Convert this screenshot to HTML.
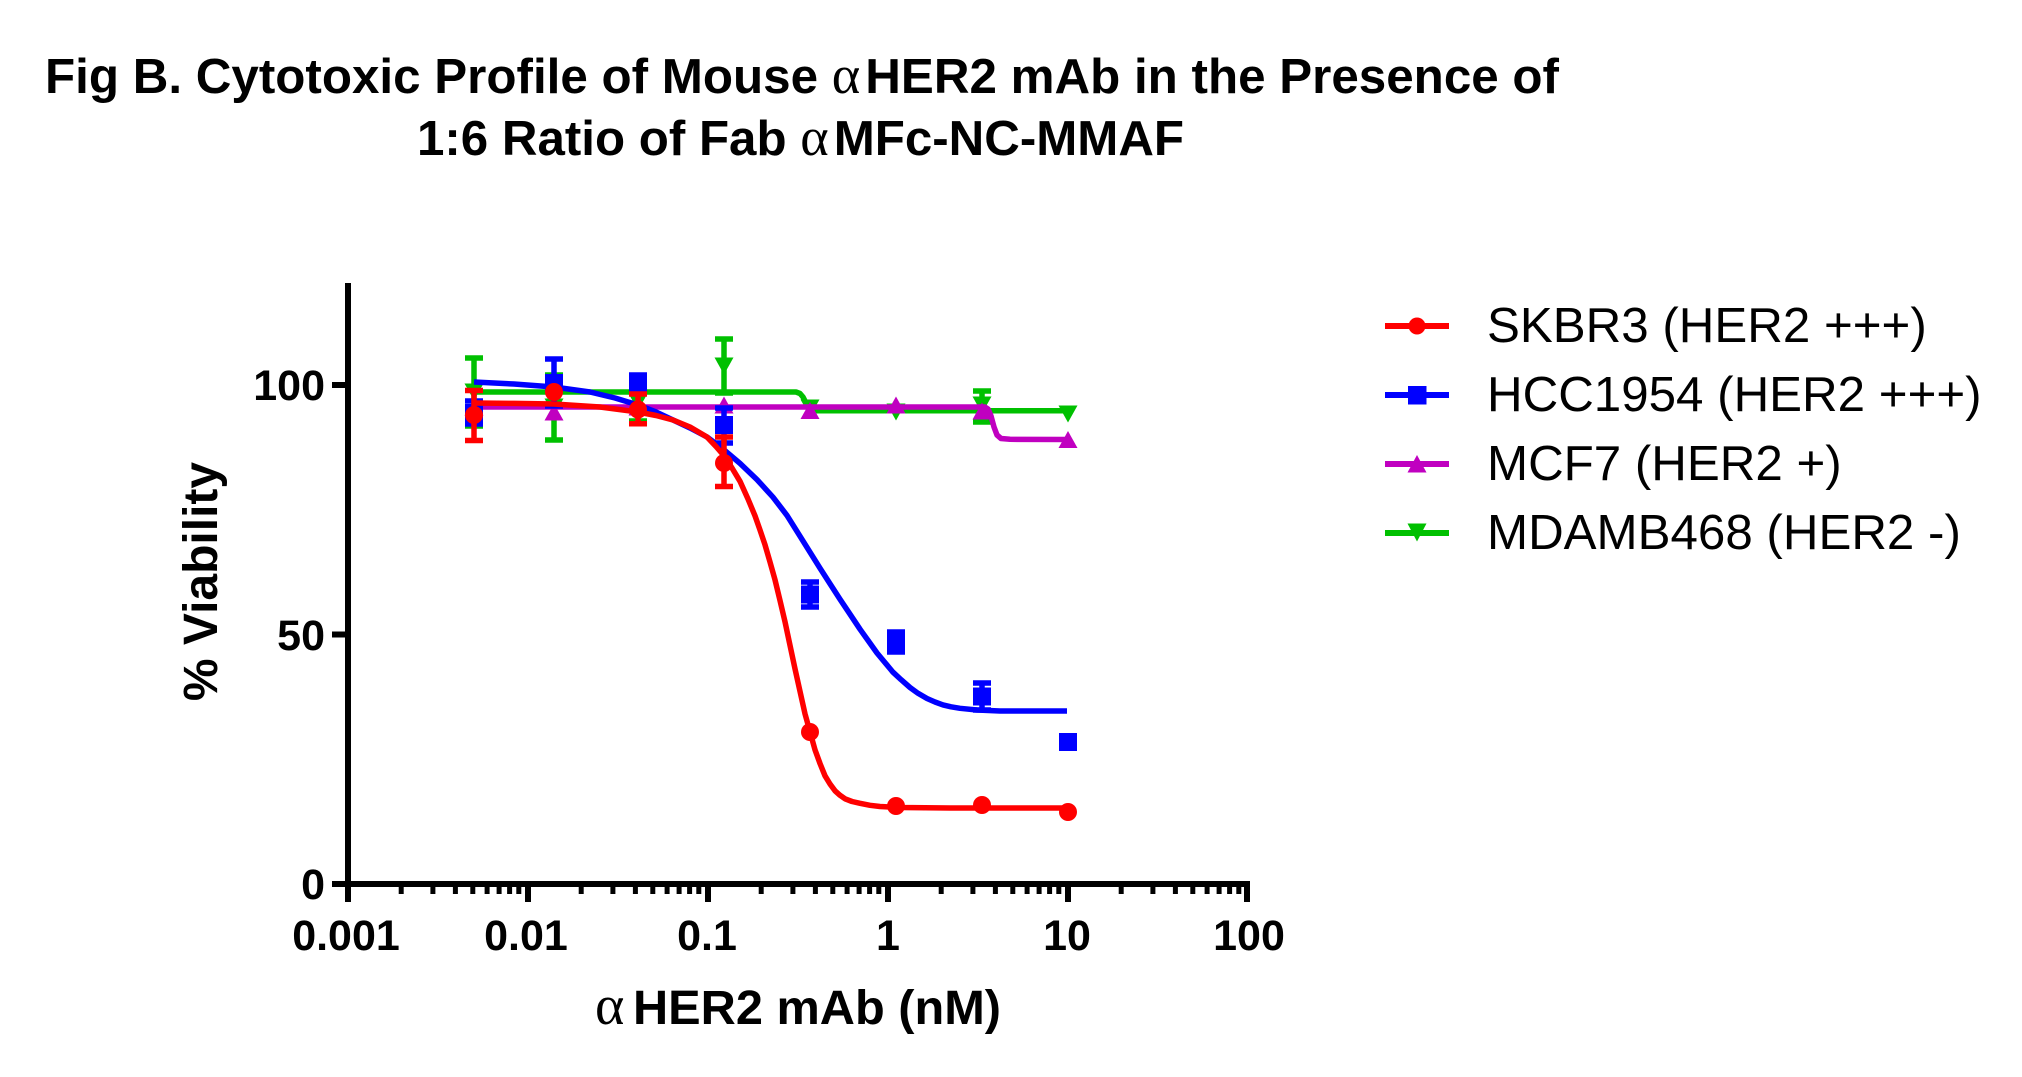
<!DOCTYPE html>
<html>
<head>
<meta charset="utf-8">
<style>
  html, body { margin: 0; padding: 0; background: #ffffff; overflow: hidden; }
  svg { display: block; }
</style>
</head>
<body>
<svg width="2022" height="1077" viewBox="0 0 2022 1077" xmlns="http://www.w3.org/2000/svg">
  <rect x="0" y="0" width="2022" height="1077" fill="#ffffff"/>

  <!-- Title -->
  <text x="45" y="93" font-family="'Liberation Sans', Arial, sans-serif" font-weight="bold" font-size="49" fill="#000" textLength="1514" lengthAdjust="spacingAndGlyphs">Fig B. Cytotoxic Profile of Mouse <tspan font-family="'Liberation Serif', serif" font-weight="normal" font-size="54">α</tspan><tspan dx="5">HER2 mAb in the Presence of</tspan></text>
  <text x="417" y="155" font-family="'Liberation Sans', Arial, sans-serif" font-weight="bold" font-size="49" fill="#000" textLength="767" lengthAdjust="spacingAndGlyphs">1:6 Ratio of Fab <tspan font-family="'Liberation Serif', serif" font-weight="normal" font-size="54">α</tspan><tspan dx="5">MFc-NC-MMAF</tspan></text>

  <!-- Axes -->
  <g stroke="#000" fill="none" stroke-linecap="butt">
    <line x1="348" y1="283" x2="348" y2="902" stroke-width="6"/>
    <line x1="345" y1="884" x2="1250" y2="884" stroke-width="6"/>
    <line x1="332" y1="385" x2="348" y2="385" stroke-width="6"/>
    <line x1="332" y1="634.5" x2="348" y2="634.5" stroke-width="6"/>
    <line x1="332" y1="884" x2="348" y2="884" stroke-width="6"/>
    <line x1="528" y1="884" x2="528" y2="902" stroke-width="6"/>
    <line x1="708" y1="884" x2="708" y2="902" stroke-width="6"/>
    <line x1="888" y1="884" x2="888" y2="902" stroke-width="6"/>
    <line x1="1068" y1="884" x2="1068" y2="902" stroke-width="6"/>
    <line x1="1247" y1="884" x2="1247" y2="902" stroke-width="6"/>
    <g stroke-width="5">
      <line x1="401.2" y1="884" x2="401.2" y2="894"/><line x1="432.9" y1="884" x2="432.9" y2="894"/><line x1="455.4" y1="884" x2="455.4" y2="894"/><line x1="472.8" y1="884" x2="472.8" y2="894"/><line x1="487.1" y1="884" x2="487.1" y2="894"/><line x1="499.1" y1="884" x2="499.1" y2="894"/><line x1="509.6" y1="884" x2="509.6" y2="894"/><line x1="518.8" y1="884" x2="518.8" y2="894"/>
      <line x1="581.2" y1="884" x2="581.2" y2="894"/><line x1="612.9" y1="884" x2="612.9" y2="894"/><line x1="635.4" y1="884" x2="635.4" y2="894"/><line x1="652.8" y1="884" x2="652.8" y2="894"/><line x1="667.1" y1="884" x2="667.1" y2="894"/><line x1="679.1" y1="884" x2="679.1" y2="894"/><line x1="689.6" y1="884" x2="689.6" y2="894"/><line x1="698.8" y1="884" x2="698.8" y2="894"/>
      <line x1="761.2" y1="884" x2="761.2" y2="894"/><line x1="792.9" y1="884" x2="792.9" y2="894"/><line x1="815.4" y1="884" x2="815.4" y2="894"/><line x1="832.8" y1="884" x2="832.8" y2="894"/><line x1="847.1" y1="884" x2="847.1" y2="894"/><line x1="859.1" y1="884" x2="859.1" y2="894"/><line x1="869.6" y1="884" x2="869.6" y2="894"/><line x1="878.8" y1="884" x2="878.8" y2="894"/>
      <line x1="941.2" y1="884" x2="941.2" y2="894"/><line x1="972.9" y1="884" x2="972.9" y2="894"/><line x1="995.4" y1="884" x2="995.4" y2="894"/><line x1="1012.8" y1="884" x2="1012.8" y2="894"/><line x1="1027.1" y1="884" x2="1027.1" y2="894"/><line x1="1039.1" y1="884" x2="1039.1" y2="894"/><line x1="1049.6" y1="884" x2="1049.6" y2="894"/><line x1="1058.8" y1="884" x2="1058.8" y2="894"/>
      <line x1="1121.2" y1="884" x2="1121.2" y2="894"/><line x1="1152.9" y1="884" x2="1152.9" y2="894"/><line x1="1175.4" y1="884" x2="1175.4" y2="894"/><line x1="1192.8" y1="884" x2="1192.8" y2="894"/><line x1="1207.1" y1="884" x2="1207.1" y2="894"/><line x1="1219.1" y1="884" x2="1219.1" y2="894"/><line x1="1229.6" y1="884" x2="1229.6" y2="894"/><line x1="1238.8" y1="884" x2="1238.8" y2="894"/>
    </g>
  </g>

  <!-- Tick labels -->
  <g font-family="'Liberation Sans', Arial, sans-serif" font-weight="bold" font-size="43" fill="#000">
    <text x="325" y="400" text-anchor="end">100</text>
    <text x="325" y="650" text-anchor="end">50</text>
    <text x="325" y="899" text-anchor="end">0</text>
    <text x="346" y="950" text-anchor="middle">0.001</text>
    <text x="526" y="950" text-anchor="middle">0.01</text>
    <text x="707" y="950" text-anchor="middle">0.1</text>
    <text x="888" y="950" text-anchor="middle">1</text>
    <text x="1067" y="950" text-anchor="middle">10</text>
    <text x="1249" y="950" text-anchor="middle">100</text>
  </g>

  <!-- Axis titles -->
  <text transform="translate(217,581.5) rotate(-90)" text-anchor="middle" font-family="'Liberation Sans', Arial, sans-serif" font-weight="bold" font-size="48" fill="#000">% Viability</text>
  <text x="595" y="1024" font-family="'Liberation Serif', serif" font-size="56" fill="#000">α</text>
  <text x="633" y="1024" font-family="'Liberation Sans', Arial, sans-serif" font-weight="bold" font-size="48" fill="#000" textLength="368" lengthAdjust="spacingAndGlyphs">HER2 mAb (nM)</text>

  <!-- MDAMB468 (green) -->
  <g stroke="#00C000" fill="none" stroke-width="5.5" stroke-linejoin="round">
    <polyline points="474,392 796,392 800,393.5 803,397 806,403 809,408 813,410.7 1068,410.7"/>
    <line x1="474" y1="358" x2="474" y2="426"/><line x1="465" y1="358" x2="483" y2="358"/><line x1="465" y1="426" x2="483" y2="426"/>
    <line x1="554" y1="375" x2="554" y2="440"/><line x1="545" y1="375" x2="563" y2="375"/><line x1="545" y1="440" x2="563" y2="440"/>
    <line x1="638" y1="384" x2="638" y2="421"/><line x1="629" y1="384" x2="647" y2="384"/><line x1="629" y1="421" x2="647" y2="421"/>
    <line x1="724" y1="339" x2="724" y2="393"/><line x1="715" y1="339" x2="733" y2="339"/><line x1="715" y1="393" x2="733" y2="393"/>
    <line x1="982" y1="391" x2="982" y2="422"/><line x1="973" y1="391" x2="991" y2="391"/><line x1="973" y1="422" x2="991" y2="422"/>
  </g>
  <g fill="#00C000">
    <polygon points="464.5,383.5 483.5,383.5 474,400.5"/>
    <polygon points="544.5,398.5 563.5,398.5 554,415.5"/>
    <polygon points="628.5,393.5 647.5,393.5 638,410.5"/>
    <polygon points="714.5,357.5 733.5,357.5 724,374.5"/>
    <polygon points="800.5,399.5 819.5,399.5 810,416.5"/>
    <polygon points="886.5,403.5 905.5,403.5 896,420.5"/>
    <polygon points="972.5,396.5 991.5,396.5 982,413.5"/>
    <polygon points="1058.5,405.5 1077.5,405.5 1068,422.5"/>
  </g>

  <!-- MCF7 (purple) -->
  <g stroke="#C000C0" fill="none" stroke-width="5.5" stroke-linejoin="round">
    <polyline points="474,407 985,407 988,409 991,416 994,427 997,435 1001,438.5 1010,439.3 1068,439.5"/>
  </g>
  <g fill="#C000C0">
    <polygon points="464.5,415.5 483.5,415.5 474,398.5"/>
    <polygon points="544.5,420.5 563.5,420.5 554,403.5"/>
    <polygon points="628.5,415.5 647.5,415.5 638,398.5"/>
    <polygon points="714.5,413.5 733.5,413.5 724,396.5"/>
    <polygon points="800.5,419 819.5,419 810,402"/>
    <polygon points="886.5,413.5 905.5,413.5 896,396.5"/>
    <polygon points="972.5,419.5 991.5,419.5 982,402.5"/>
    <polygon points="1058.5,448 1077.5,448 1068,431"/>
  </g>

  <!-- HCC1954 (blue) -->
  <g stroke="#0000FF" fill="none" stroke-width="5.5" stroke-linejoin="round">
    <polyline points="474,382 514,384 554,387 590,392 615,398 638,405 656,412 673,420 690,428 707,437 724,449.8 740,463.4 757,479.6 773,497.2 787,515.4 800,536.2 810,552.2 820,568.2 830,583.7 840,599.2 850,614.2 860,629.2 868,640.4 877,653 885,662.6 893,672.2 901,679.6 910,687.5 918,693.3 927,698.5 935,702 943,704.9 951,706.8 960,708.3 977,710 1000,711 1067,711"/>
    <line x1="474" y1="401" x2="474" y2="424"/><line x1="465" y1="401" x2="483" y2="401"/><line x1="465" y1="424" x2="483" y2="424"/>
    <line x1="554" y1="359" x2="554" y2="406"/><line x1="545" y1="359" x2="563" y2="359"/><line x1="545" y1="406" x2="563" y2="406"/>
    <line x1="638" y1="375" x2="638" y2="391"/><line x1="629" y1="375" x2="647" y2="375"/><line x1="629" y1="391" x2="647" y2="391"/>
    <line x1="724" y1="408" x2="724" y2="443"/><line x1="715" y1="408" x2="733" y2="408"/><line x1="715" y1="443" x2="733" y2="443"/>
    <line x1="810" y1="582" x2="810" y2="607"/><line x1="801" y1="582" x2="819" y2="582"/><line x1="801" y1="607" x2="819" y2="607"/>
    <line x1="896" y1="632" x2="896" y2="652"/><line x1="887" y1="632" x2="905" y2="632"/><line x1="887" y1="652" x2="905" y2="652"/>
    <line x1="982" y1="683" x2="982" y2="710"/><line x1="973" y1="683" x2="991" y2="683"/><line x1="973" y1="710" x2="991" y2="710"/>
  </g>
  <g fill="#0000FF">
    <rect x="465" y="404" width="18" height="18"/>
    <rect x="545" y="374" width="18" height="18"/>
    <rect x="629" y="374" width="18" height="18"/>
    <rect x="715" y="416" width="18" height="18"/>
    <rect x="801" y="585.5" width="18" height="18"/>
    <rect x="887" y="633" width="18" height="18"/>
    <rect x="973" y="687.5" width="18" height="18"/>
    <rect x="1059" y="733" width="18" height="18"/>
  </g>

  <!-- SKBR3 (red) -->
  <g stroke="#FF0000" fill="none" stroke-width="5.5" stroke-linejoin="round">
    <polyline points="474,403 514,403.4 554,404 600,407 638,412 656,415.5 673,420 690,427 707,437 716,446.5 724,455.7 732,468 740,481.3 748,499 755,515.8 760,530 765,544.8 770,562 775,579.8 780,600.5 785,621.8 790,645.3 795,668.8 800,691.3 805,713.8 810,731.8 815,749.8 820,763.5 825,775.8 830,784 835,790.8 840,795.3 845,798.8 852,801.5 860,803.3 870,805.3 880,806.5 900,807.5 950,808 1068,808"/>
    <line x1="474" y1="390.5" x2="474" y2="440.5"/><line x1="465" y1="390.5" x2="483" y2="390.5"/><line x1="465" y1="440.5" x2="483" y2="440.5"/>
    <line x1="638" y1="394" x2="638" y2="423.7"/><line x1="629" y1="394" x2="647" y2="394"/><line x1="629" y1="423.7" x2="647" y2="423.7"/>
    <line x1="724" y1="437" x2="724" y2="486.5"/><line x1="715" y1="437" x2="733" y2="437"/><line x1="715" y1="486.5" x2="733" y2="486.5"/>
  </g>
  <g fill="#FF0000">
    <circle cx="474" cy="415" r="9"/>
    <circle cx="554" cy="392" r="9"/>
    <circle cx="638" cy="409.5" r="9"/>
    <circle cx="724" cy="463" r="9"/>
    <circle cx="810" cy="732" r="9"/>
    <circle cx="896" cy="806" r="9"/>
    <circle cx="982" cy="805" r="9"/>
    <circle cx="1068" cy="812" r="9"/>
  </g>

  <!-- Legend -->
  <g stroke-width="6" fill="none">
    <line x1="1385" y1="326" x2="1449" y2="326" stroke="#FF0000"/>
    <line x1="1385" y1="395" x2="1449" y2="395" stroke="#0000FF"/>
    <line x1="1385" y1="464" x2="1449" y2="464" stroke="#C000C0"/>
    <line x1="1385" y1="533" x2="1449" y2="533" stroke="#00C000"/>
  </g>
  <circle cx="1417" cy="326" r="8.5" fill="#FF0000"/>
  <rect x="1408" y="386" width="18.5" height="18.5" fill="#0000FF"/>
  <polygon points="1407.5,472.5 1426.5,472.5 1417,455" fill="#C000C0"/>
  <polygon points="1407.5,523.5 1426.5,523.5 1417,541.5" fill="#00C000"/>
  <g font-family="'Liberation Sans', Arial, sans-serif" font-size="49.3" fill="#000">
    <text x="1487" y="342">SKBR3 (HER2 +++)</text>
    <text x="1487" y="411">HCC1954 (HER2 +++)</text>
    <text x="1487" y="480">MCF7 (HER2 +)</text>
    <text x="1487" y="549">MDAMB468 (HER2 -)</text>
  </g>
</svg>
</body>
</html>
